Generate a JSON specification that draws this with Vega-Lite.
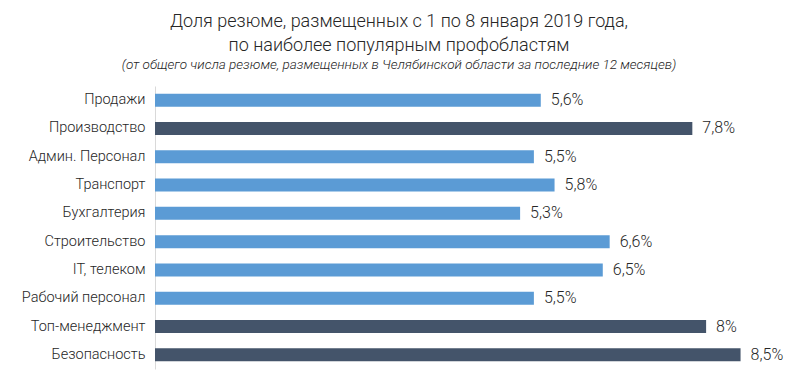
{
  "$schema": "https://vega.github.io/schema/vega-lite/v6.json",
  "width": 620,
  "height": 283,
  "autosize": {"type": "none"},
  "padding": {"left": 155, "top": 86, "right": 16, "bottom": 8},
  "background": "white",
  "title": {
    "text": ["Доля резюме, размещенных с 1 по 8 января 2019 года,", "по наиболее популярным профобластям"],
    "subtitle": "(от общего числа резюме, размещенных в Челябинской области за последние 12 месяцев)",
    "anchor": "middle",
    "dx": -66,
    "offset": 15,
    "font": "Roboto",
    "fontSize": 18,
    "fontWeight": 300,
    "color": "#262626",
    "lineHeight": 24,
    "subtitleFont": "Roboto",
    "subtitleFontSize": 13.5,
    "subtitleFontStyle": "italic",
    "subtitleFontWeight": 300,
    "subtitleColor": "#262626",
    "subtitlePadding": 3
  },
  "data": {
    "values": [
      {"category": "Продажи", "value": 5.6, "label": "5,6%"},
      {"category": "Производство", "value": 7.8, "label": "7,8%"},
      {"category": "Админ. Персонал", "value": 5.5, "label": "5,5%"},
      {"category": "Транспорт", "value": 5.8, "label": "5,8%"},
      {"category": "Бухгалтерия", "value": 5.3, "label": "5,3%"},
      {"category": "Строительство", "value": 6.6, "label": "6,6%"},
      {"category": "IT, телеком", "value": 6.5, "label": "6,5%"},
      {"category": "Рабочий персонал", "value": 5.5, "label": "5,5%"},
      {"category": "Топ-менеджмент", "value": 8.0, "label": "8%"},
      {"category": "Безопасность", "value": 8.5, "label": "8,5%"}
    ]
  },
  "encoding": {
    "y": {
      "field": "category",
      "type": "nominal",
      "sort": null,
      "scale": {"paddingInner": 0.54, "paddingOuter": 0.27},
      "axis": {
        "title": null,
        "ticks": false,
        "labelPadding": 10,
        "labelFont": "Roboto",
        "labelFontSize": 14.5,
        "labelFontWeight": 300,
        "labelColor": "#262626",
        "labelLimit": 200,
        "domainColor": "#d9d9d9",
        "domainWidth": 1
      }
    },
    "x": {
      "field": "value",
      "type": "quantitative",
      "scale": {"domain": [0, 9], "nice": false},
      "axis": null
    }
  },
  "layer": [
    {
      "mark": {"type": "bar"},
      "encoding": {
        "color": {
          "condition": {"test": "datum.value >= 7", "value": "#44546A"},
          "value": "#5B9BD5"
        }
      }
    },
    {
      "mark": {"type": "text", "align": "left", "baseline": "middle", "dx": 10, "font": "Roboto", "fontSize": 16, "fontWeight": 300, "color": "#262626"},
      "encoding": {"text": {"field": "label"}}
    }
  ],
  "config": {"view": {"stroke": null}}
}
